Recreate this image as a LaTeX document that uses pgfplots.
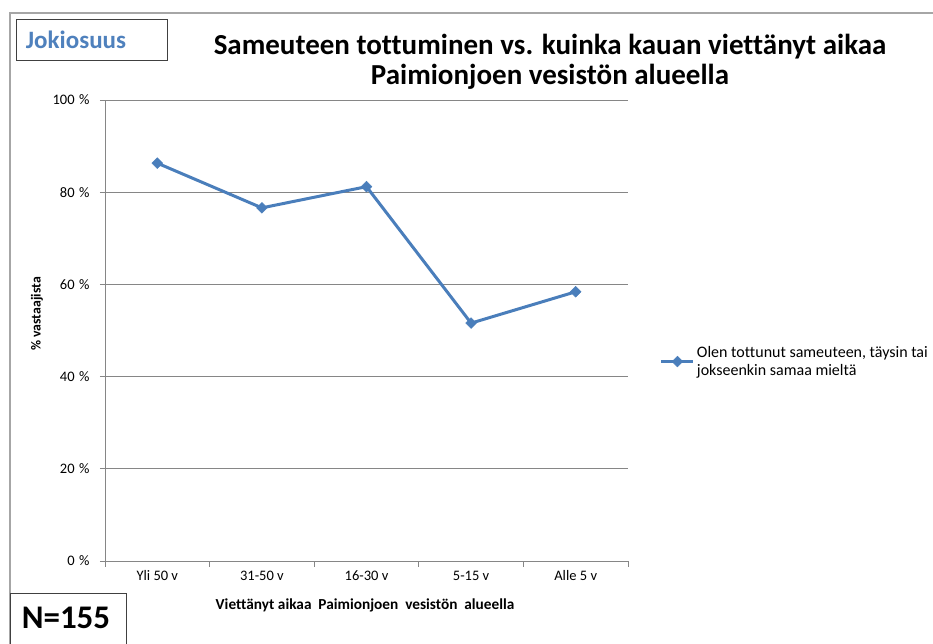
\documentclass[border=0pt]{standalone}
\usepackage{fontspec}
\setmainfont{Carlito}[Ligatures=NoCommon]
\usepackage{pgfplots}
\pgfplotsset{compat=1.18}
\definecolor{serblue}{HTML}{4A7EBB}
\definecolor{titleblue}{HTML}{4F81BD}
\definecolor{gridgray}{HTML}{868686}
\definecolor{framegray}{HTML}{A6A6A6}
\begin{document}
\begin{tikzpicture}[x=1pt,y=1pt]
\path[use as bounding box] (0,0) rectangle (933,644);
\draw[framegray,line width=1.2pt] (10,-10) -- (10,631) -- (960,631);
\begin{axis}[
  at={(105pt,83pt)}, anchor=south west,
  width=523pt, height=461pt, scale only axis,
  xmin=0.5, xmax=5.5, ymin=0, ymax=100,
  axis x line*=bottom, axis y line*=left,
  axis line style={gridgray, line width=0.8pt},
  xtick={1,2,3,4,5},
  xticklabels={Yli 50 v,31-50 v,16-30 v,5-15 v,Alle 5 v},
  major x tick style={draw=none},
  minor xtick={0.5,1.5,2.5,3.5,4.5,5.5},
  minor tick length=6pt,
  minor x tick style={gridgray, line width=0.8pt},
  ytick={0,20,40,60,80,100},
  yticklabels={0\hspace{4.5pt}\%,20\hspace{4.5pt}\%,40\hspace{4.5pt}\%,60\hspace{4.5pt}\%,80\hspace{4.5pt}\%,100\hspace{4.5pt}\%},
  major tick length=5pt,
  major y tick style={gridgray, line width=0.8pt},
  tick align=outside,
  ymajorgrids,
  grid style={gridgray, line width=0.8pt},
  ticklabel style={font=\fontsize{14.5}{17}\selectfont},
  xticklabel style={yshift=-1pt, text height=10pt, text depth=3pt},
  yticklabel style={xshift=-7pt},
  legend style={at={(1.055,0.475)}, anchor=north west, draw=none, fill=none,
    font=\fontsize{16}{18}\selectfont, nodes={align=left}},
  legend cell align=left,
  legend image code/.code={
    \draw[#1, mark repeat=2, mark phase=2] plot coordinates {(0pt,0pt)(16pt,0pt)(32pt,0pt)};
  },
  clip=false,
]
\addplot[serblue, line width=3pt, mark=square*, mark size=3.8pt,
  mark options={rotate=45, solid, fill=serblue, draw=serblue, line width=0.5pt}]
  coordinates {(1,86.3) (2,76.6) (3,81.2) (4,51.6) (5,58.4)};
\addlegendentry{Olen tottunut sameuteen, täysin tai\\jokseenkin samaa mieltä}
\end{axis}
% titles and labels
\node[font=\bfseries\fontsize{29}{30.5}\selectfont, align=center] at (550,644-62)
  {Sameuteen tottuminen vs. kuinka kauan viettänyt aikaa\\Paimionjoen vesistön alueella};
\draw[black!75, line width=0.8pt, fill=white] (16,644-19) rectangle (167,644-60);
\node[font=\bfseries\fontsize{25}{28}\selectfont, text=titleblue] at (76,644-40) {Jokiosuus};
\draw[black!75, line width=0.8pt, fill=white] (10,-5) rectangle (126,644-593);
\node[font=\bfseries\fontsize{33}{38}\selectfont] at (66,644-618) {N=155};
\node[font=\bfseries\fontsize{15.3}{18}\selectfont] at (365,644-605) {Viettänyt aikaa\ \ Paimionjoen\ \ vesistön\ \ alueella};
\node[font=\bfseries\fontsize{13.8}{16}\selectfont, rotate=90] at (37,644-314) {\% vastaajista};
\fill[white] (929.5,0) rectangle (940,630.2);
\end{tikzpicture}
\end{document}
